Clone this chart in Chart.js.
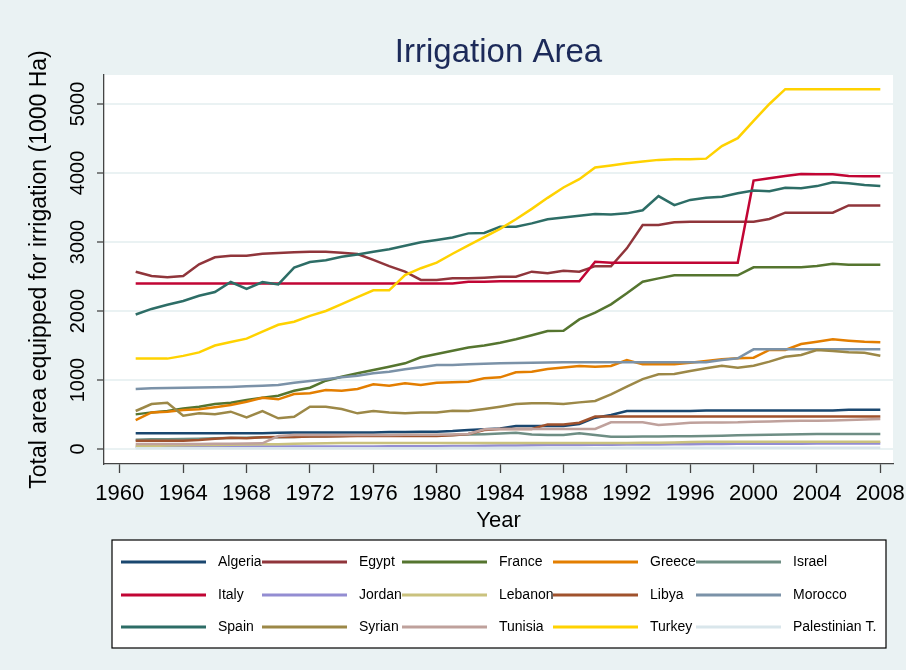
<!DOCTYPE html>
<html>
<head>
<meta charset="utf-8">
<title>Irrigation Area</title>
<script src="https://cdn.jsdelivr.net/npm/chart.js@4.4.1/dist/chart.umd.min.js"></script>
<style>
  html, body { margin: 0; padding: 0; background: #eaf2f3; }
  #wrap { width: 906px; height: 670px; }
</style>
</head>
<body>
<div id="wrap"><canvas id="irrChart" width="906" height="670"></canvas></div>
<script>
// years 1961..2008
var years = [];
for (var y = 1961; y <= 2008; y++) years.push(y);

var xTicks = [1960, 1964, 1968, 1972, 1976, 1980, 1984, 1988, 1992, 1996, 2000, 2004, 2008];
var yTicks = [0, 1000, 2000, 3000, 4000, 5000];

// values in 1000 ha
var algeria = [230, 230, 230, 230, 230, 230, 230, 230, 230, 237,
               240, 240, 240, 240, 240, 240, 245, 245, 250, 251,
               260, 275, 285, 299, 333, 333, 333, 333, 362, 454,
               493, 551, 551, 551, 551, 551, 560, 560, 560, 560,
               560, 560, 560, 560, 560, 570, 570, 570];
var egypt = [2570, 2507, 2490, 2507, 2677, 2778, 2800, 2800, 2830, 2841,
             2850, 2860, 2860, 2845, 2826, 2740, 2650, 2570, 2450, 2450,
             2473, 2473, 2483, 2497, 2497, 2570, 2546, 2584, 2570, 2650,
             2648, 2908, 3246, 3246, 3285, 3295, 3295, 3295, 3295, 3295,
             3333, 3425, 3425, 3425, 3425, 3530, 3530, 3530];
var france = [502, 531, 551, 589, 614, 652, 671, 710, 744, 773,
              845, 889, 990, 1048, 1097, 1145, 1193, 1242, 1329, 1377,
              1425, 1470, 1500, 1541, 1590, 1648, 1710, 1715, 1879, 1976,
              2097, 2256, 2425, 2473, 2517, 2517, 2517, 2517, 2517, 2633,
              2633, 2633, 2633, 2652, 2686, 2672, 2672, 2672];
var greece = [420, 531, 541, 565, 575, 604, 638, 686, 744, 720,
              797, 807, 855, 845, 870, 937, 918, 952, 928, 961,
              966, 976, 1024, 1039, 1111, 1120, 1159, 1183, 1203, 1193,
              1203, 1290, 1227, 1227, 1227, 1251, 1275, 1300, 1314, 1323,
              1435, 1435, 1522, 1555, 1590, 1570, 1555, 1546];
var israel = [136, 140, 143, 145, 150, 155, 160, 165, 170, 172,
              175, 180, 185, 190, 195, 200, 203, 205, 205, 203,
              205, 210, 215, 225, 237, 212, 203, 203, 227, 203,
              179, 179, 181, 182, 184, 184, 188, 193, 198, 203,
              208, 212, 215, 217, 217, 217, 217, 217];
var italy = [2400, 2400, 2400, 2400, 2400, 2400, 2400, 2400, 2400, 2400,
             2400, 2400, 2400, 2400, 2400, 2400, 2400, 2400, 2400, 2400,
             2400, 2425, 2425, 2430, 2430, 2430, 2430, 2430, 2430, 2715,
             2700, 2700, 2700, 2700, 2700, 2700, 2700, 2700, 2700, 3890,
             3925, 3955, 3985, 3980, 3980, 3957, 3952, 3952];
var jordan = [33, 33, 34, 34, 35, 35, 35, 36, 36, 36,
              36, 37, 37, 37, 38, 38, 39, 40, 41, 42,
              43, 45, 47, 50, 52, 55, 57, 58, 60, 63,
              63, 64, 64, 66, 68, 70, 72, 74, 75, 76,
              77, 78, 78, 79, 79, 79, 79, 79];
var lebanon = [43, 45, 50, 55, 58, 60, 62, 65, 68, 70,
               75, 80, 85, 86, 86, 86, 86, 86, 86, 86,
               86, 86, 87, 87, 87, 87, 87, 87, 87, 87,
               88, 88, 90, 92, 95, 100, 104, 104, 104, 104,
               104, 104, 104, 104, 104, 104, 104, 104];
var libya = [121, 121, 121, 121, 130, 150, 164, 155, 170, 175,
             175, 180, 180, 185, 188, 188, 188, 188, 188, 188,
             200, 217, 275, 290, 290, 290, 357, 357, 381, 470,
             470, 470, 470, 470, 470, 470, 470, 470, 470, 470,
             470, 470, 470, 470, 470, 470, 470, 470];
var morocco = [870, 880, 885, 889, 890, 894, 900, 910, 918, 928,
               961, 986, 1010, 1039, 1063, 1097, 1121, 1155, 1184, 1217,
               1217, 1227, 1235, 1242, 1245, 1250, 1254, 1258, 1258, 1258,
               1258, 1258, 1258, 1258, 1258, 1258, 1258, 1290, 1314, 1445,
               1445, 1445, 1445, 1445, 1445, 1445, 1445, 1445];
var spain = [1950, 2030, 2090, 2145, 2220, 2275, 2420, 2320, 2420, 2385,
             2630, 2710, 2735, 2785, 2820, 2860, 2895, 2945, 2995, 3030,
             3065, 3125, 3130, 3220, 3220, 3270, 3330, 3355, 3380, 3405,
             3400, 3415, 3460, 3665, 3535, 3610, 3640, 3655, 3705, 3745,
             3735, 3785, 3780, 3810, 3865, 3850, 3825, 3810];
var syria = [551, 652, 671, 483, 517, 503, 541, 459, 551, 445,
             468, 614, 614, 580, 517, 551, 531, 517, 531, 531,
             556, 551, 580, 614, 652, 662, 662, 652, 676, 696,
             792, 903, 1014, 1082, 1087, 1130, 1169, 1208, 1179, 1208,
             1266, 1338, 1362, 1435, 1420, 1401, 1396, 1352];
var tunisia = [72, 72, 72, 72, 72, 75, 78, 80, 82, 188,
               203, 203, 205, 205, 205, 205, 205, 207, 207, 207,
               210, 217, 285, 290, 290, 290, 290, 290, 290, 290,
               387, 387, 387, 348, 362, 381, 383, 385, 387, 395,
               400, 406, 408, 410, 415, 420, 428, 435];
var turkey = [1310, 1310, 1310, 1350, 1400, 1500, 1550, 1600, 1700, 1800,
              1845, 1930, 2000, 2100, 2200, 2300, 2300, 2520, 2620, 2700,
              2830, 2950, 3070, 3190, 3330, 3480, 3640, 3790, 3910, 4080,
              4110, 4140, 4165, 4190, 4200, 4200, 4208, 4390, 4505, 4755,
              5000, 5215, 5215, 5215, 5215, 5215, 5215, 5215];
var palestine = [10, 10, 10, 10, 10, 10, 10, 10, 10, 10,
                 12, 12, 12, 12, 12, 12, 12, 12, 12, 12,
                 15, 15, 15, 15, 15, 15, 15, 15, 15, 15,
                 18, 18, 18, 18, 18, 18, 18, 18, 18, 18,
                 20, 20, 20, 20, 20, 20, 20, 20];

var countries = ['Algeria', 'Egypt', 'France', 'Greece', 'Israel',
                 'Italy', 'Jordan', 'Lebanon', 'Libya', 'Morocco',
                 'Spain', 'Syrian', 'Tunisia', 'Turkey', 'Palestinian T.'];
var seriesValues = [algeria, egypt, france, greece, israel,
                    italy, jordan, lebanon, libya, morocco,
                    spain, syria, tunisia, turkey, palestine];
// stata s2color palette
var colors = ['#1a476f', '#90353b', '#55752f', '#e37e00', '#6e8e84',
              '#c10534', '#938dd2', '#cac27e', '#a0522d', '#7b92a8',
              '#2d6d66', '#9c8847', '#bfa19c', '#ffd200', '#d9e6eb'];

var FONT = "'Liberation Sans', Arial, sans-serif";

var datasets = countries.map(function(name, i) {
    return {
        label: name,
        data: years.map(function(yr, j) { return {x: yr, y: seriesValues[i][j]}; }),
        borderColor: colors[i],
        backgroundColor: colors[i],
        borderWidth: 2.5,
        pointRadius: 0,
        tension: 0,
        order: countries.length - 1 - i   // later series on top, like stata
    };
});

// background, title and boxed legend
var decor = {
    id: 'decor',
    beforeDraw: function(chart) {
        var ctx = chart.ctx, a = chart.chartArea;
        ctx.save();
        ctx.fillStyle = '#eaf2f3';
        ctx.fillRect(0, 0, chart.width, chart.height);
        ctx.fillStyle = '#ffffff';
        ctx.fillRect(a.left, a.top, a.right - a.left, a.bottom - a.top);
        ctx.restore();
    },
    afterDraw: function(chart) {
        var ctx = chart.ctx, a = chart.chartArea;
        ctx.save();
        ctx.fillStyle = '#1c2a59';
        ctx.font = '33px ' + FONT;
        ctx.textAlign = 'center';
        ctx.textBaseline = 'alphabetic';
        ctx.fillText('Irrigation Area', (a.left + a.right) / 2, 62);

        ctx.fillStyle = '#ffffff';
        ctx.fillRect(112, 540, 774, 108);
        ctx.strokeStyle = '#000000';
        ctx.lineWidth = 1.2;
        ctx.strokeRect(112, 540, 774, 108);

        var colX = [121, 262, 402, 553, 696];
        var rowY = [562, 595, 627];
        ctx.font = '14px ' + FONT;
        ctx.textAlign = 'left';
        ctx.textBaseline = 'middle';
        chart.data.datasets.forEach(function(ds, i) {
            var x0 = colX[i % 5], yy = rowY[Math.floor(i / 5)];
            ctx.fillStyle = '#000';
            ctx.fillText(ds.label, x0 + 97, yy);
            ctx.strokeStyle = ds.borderColor;
            ctx.lineWidth = 3;
            ctx.beginPath();
            ctx.moveTo(x0, yy);
            ctx.lineTo(x0 + 85, yy);
            ctx.stroke();
        });
        ctx.restore();
    }
};

var ctx = document.getElementById('irrChart').getContext('2d');
var irrChart = new Chart(ctx, {
    type: 'line',
    data: { datasets: datasets },
    plugins: [decor],
    options: {
        responsive: false,
        animation: false,
        layout: { padding: { top: 75, right: 13, bottom: 136, left: 0 } },
        plugins: {
            legend: { display: false },
            tooltip: { enabled: false },
            title: { display: false }
        },
        scales: {
            x: {
                type: 'linear',
                min: 1959,
                max: 2008.8,
                afterBuildTicks: function(s) { s.ticks = xTicks.map(function(v) { return {value: v}; }); },
                afterFit: function(s) {
                    s.height = 70;
                    // labels may overhang the plot edges, as in the original
                    s.paddingLeft = 0;
                    s.paddingRight = 0;
                },
                grid: { drawOnChartArea: false, drawTicks: true, tickLength: 9, tickColor: '#444', tickWidth: 1.3 },
                border: { color: '#444', width: 1.3 },
                ticks: {
                    color: '#000',
                    font: { family: FONT, size: 22 },
                    padding: 8,
                    maxRotation: 0,
                    autoSkip: false,
                    callback: function(v) { return String(v); }
                },
                title: {
                    display: true,
                    text: 'Year',
                    color: '#000',
                    font: { family: FONT, size: 22 },
                    padding: { top: 0, bottom: 0 }
                }
            },
            y: {
                min: -217,
                max: 5420,
                afterBuildTicks: function(s) { s.ticks = yTicks.map(function(v) { return {value: v}; }); },
                afterFit: function(s) { s.width = 104; s.paddingTop = 0; s.paddingBottom = 0; },
                grid: { color: '#eaf2f3', lineWidth: 2, drawTicks: true, tickLength: 7, tickColor: '#444', tickWidth: 1.3 },
                border: { color: '#444', width: 1.3 },
                ticks: {
                    color: '#000',
                    font: { family: FONT, size: 20 },
                    minRotation: 90,
                    maxRotation: 90,
                    crossAlign: 'center',
                    padding: -4,
                    callback: function(v) { return String(v); }
                },
                title: {
                    display: true,
                    text: 'Total area equipped for irrigation (1000 Ha)',
                    color: '#000',
                    font: { family: FONT, size: 23 },
                    padding: { top: 26, bottom: 0 }
                }
            }
        }
    }
});
</script>
</body>
</html>
